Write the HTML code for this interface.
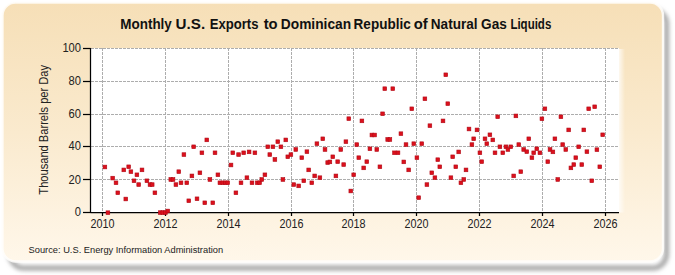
<!DOCTYPE html>
<html><head><meta charset="utf-8"><style>
html,body{margin:0;padding:0;background:#fff;}
body{width:675px;height:275px;overflow:hidden;position:relative;}
svg{position:absolute;left:0;top:0;}
text{font-family:"Liberation Sans",sans-serif;}
</style></head><body>
<svg width="675" height="275" viewBox="0 0 675 275">
<defs>
<linearGradient id="bg" x1="0" y1="0" x2="0" y2="1">
<stop offset="0" stop-color="#f6dfb7"/>
<stop offset="0.5" stop-color="#faeace"/>
<stop offset="1" stop-color="#fff7ea"/>
</linearGradient>
<linearGradient id="fade" x1="0" y1="0" x2="1" y2="0"><stop offset="0" stop-color="#fff" stop-opacity="0.75"/><stop offset="1" stop-color="#fff" stop-opacity="0"/></linearGradient>
<filter id="sh" x="-5%" y="-5%" width="110%" height="110%">
<feGaussianBlur stdDeviation="2"/>
</filter>
<filter id="soft" x="-2%" y="-2%" width="104%" height="104%"><feGaussianBlur stdDeviation="0.5"/></filter>
</defs>
<rect x="10" y="10" width="656.5" height="258" rx="14" fill="none" stroke="#a4a4a4" stroke-width="5" filter="url(#sh)"/>
<rect x="2.5" y="2.5" width="660.5" height="259" rx="13" fill="url(#bg)" stroke="#fffefb" stroke-opacity="0.85" stroke-width="2.4" filter="url(#soft)"/>
<rect x="90.5" y="48" width="528.5" height="164.5" fill="#fff"/>
<rect x="619" y="49" width="6" height="163.5" fill="url(#fade)"/>
<g stroke="#adadad" stroke-width="1" stroke-dasharray="3,1" shape-rendering="crispEdges">
<line x1="102.5" y1="48" x2="102.5" y2="212.5"/>
<line x1="165.5" y1="48" x2="165.5" y2="212.5"/>
<line x1="228.5" y1="48" x2="228.5" y2="212.5"/>
<line x1="291.5" y1="48" x2="291.5" y2="212.5"/>
<line x1="353.5" y1="48" x2="353.5" y2="212.5"/>
<line x1="416.5" y1="48" x2="416.5" y2="212.5"/>
<line x1="479.5" y1="48" x2="479.5" y2="212.5"/>
<line x1="542.5" y1="48" x2="542.5" y2="212.5"/>
<line x1="605.5" y1="48" x2="605.5" y2="212.5"/>
<line x1="90.5" y1="179.5" x2="619" y2="179.5"/>
<line x1="90.5" y1="146.5" x2="619" y2="146.5"/>
<line x1="90.5" y1="114.5" x2="619" y2="114.5"/>
<line x1="90.5" y1="81.5" x2="619" y2="81.5"/>
<line x1="90.5" y1="48.5" x2="619" y2="48.5"/>
</g>
<g stroke="#000" stroke-width="1.25">
<line x1="90.5" y1="48" x2="90.5" y2="213.0"/>
<line x1="90.5" y1="212.5" x2="619" y2="212.5"/>
<line x1="83" y1="212.5" x2="90.5" y2="212.5"/>
<line x1="83" y1="179.5" x2="90.5" y2="179.5"/>
<line x1="83" y1="146.5" x2="90.5" y2="146.5"/>
<line x1="83" y1="114.5" x2="90.5" y2="114.5"/>
<line x1="83" y1="81.5" x2="90.5" y2="81.5"/>
<line x1="83" y1="48.5" x2="90.5" y2="48.5"/>
<line x1="102.5" y1="212.5" x2="102.5" y2="216"/>
<line x1="165.5" y1="212.5" x2="165.5" y2="216"/>
<line x1="228.5" y1="212.5" x2="228.5" y2="216"/>
<line x1="291.5" y1="212.5" x2="291.5" y2="216"/>
<line x1="353.5" y1="212.5" x2="353.5" y2="216"/>
<line x1="416.5" y1="212.5" x2="416.5" y2="216"/>
<line x1="479.5" y1="212.5" x2="479.5" y2="216"/>
<line x1="542.5" y1="212.5" x2="542.5" y2="216"/>
<line x1="605.5" y1="212.5" x2="605.5" y2="216"/>
</g>
<g fill="#dc101c" stroke="#b00a16" stroke-width="0.6">
<rect x="103.05" y="165.15" width="3.7" height="3.7"/>
<rect x="106.05" y="210.85" width="3.7" height="3.7"/>
<rect x="110.85" y="176.25" width="3.7" height="3.7"/>
<rect x="114.15" y="180.95" width="3.7" height="3.7"/>
<rect x="115.95" y="190.95" width="3.7" height="3.7"/>
<rect x="123.95" y="197.15" width="3.7" height="3.7"/>
<rect x="121.95" y="168.05" width="3.7" height="3.7"/>
<rect x="126.85" y="164.95" width="3.7" height="3.7"/>
<rect x="129.05" y="169.85" width="3.7" height="3.7"/>
<rect x="132.15" y="178.95" width="3.7" height="3.7"/>
<rect x="135.05" y="172.95" width="3.7" height="3.7"/>
<rect x="136.85" y="182.75" width="3.7" height="3.7"/>
<rect x="140.15" y="168.05" width="3.7" height="3.7"/>
<rect x="145.05" y="178.95" width="3.7" height="3.7"/>
<rect x="148.15" y="182.75" width="3.7" height="3.7"/>
<rect x="150.35" y="182.75" width="3.7" height="3.7"/>
<rect x="153.05" y="190.95" width="3.7" height="3.7"/>
<rect x="158.35" y="210.75" width="3.7" height="3.7"/>
<rect x="160.95" y="210.75" width="3.7" height="3.7"/>
<rect x="163.55" y="210.75" width="3.7" height="3.7"/>
<rect x="165.95" y="209.15" width="3.7" height="3.7"/>
<rect x="168.95" y="177.65" width="3.7" height="3.7"/>
<rect x="171.15" y="177.65" width="3.7" height="3.7"/>
<rect x="174.05" y="182.75" width="3.7" height="3.7"/>
<rect x="176.95" y="169.85" width="3.7" height="3.7"/>
<rect x="179.15" y="180.95" width="3.7" height="3.7"/>
<rect x="182.05" y="152.75" width="3.7" height="3.7"/>
<rect x="184.95" y="180.95" width="3.7" height="3.7"/>
<rect x="186.95" y="198.95" width="3.7" height="3.7"/>
<rect x="190.05" y="174.05" width="3.7" height="3.7"/>
<rect x="191.85" y="144.95" width="3.7" height="3.7"/>
<rect x="195.15" y="196.95" width="3.7" height="3.7"/>
<rect x="198.05" y="170.95" width="3.7" height="3.7"/>
<rect x="200.05" y="150.95" width="3.7" height="3.7"/>
<rect x="202.95" y="200.95" width="3.7" height="3.7"/>
<rect x="204.95" y="138.05" width="3.7" height="3.7"/>
<rect x="208.05" y="177.65" width="3.7" height="3.7"/>
<rect x="210.95" y="200.95" width="3.7" height="3.7"/>
<rect x="213.15" y="150.95" width="3.7" height="3.7"/>
<rect x="216.05" y="172.95" width="3.7" height="3.7"/>
<rect x="218.05" y="180.95" width="3.7" height="3.7"/>
<rect x="220.95" y="180.95" width="3.7" height="3.7"/>
<rect x="223.65" y="180.95" width="3.7" height="3.7"/>
<rect x="225.85" y="180.95" width="3.7" height="3.7"/>
<rect x="229.15" y="163.15" width="3.7" height="3.7"/>
<rect x="230.95" y="150.95" width="3.7" height="3.7"/>
<rect x="234.05" y="190.95" width="3.7" height="3.7"/>
<rect x="236.75" y="152.75" width="3.7" height="3.7"/>
<rect x="239.15" y="180.95" width="3.7" height="3.7"/>
<rect x="241.85" y="150.95" width="3.7" height="3.7"/>
<rect x="245.05" y="175.85" width="3.7" height="3.7"/>
<rect x="247.25" y="150.05" width="3.7" height="3.7"/>
<rect x="250.15" y="180.95" width="3.7" height="3.7"/>
<rect x="253.05" y="150.95" width="3.7" height="3.7"/>
<rect x="255.45" y="180.95" width="3.7" height="3.7"/>
<rect x="257.75" y="180.95" width="3.7" height="3.7"/>
<rect x="259.95" y="177.65" width="3.7" height="3.7"/>
<rect x="263.05" y="172.95" width="3.7" height="3.7"/>
<rect x="265.95" y="144.95" width="3.7" height="3.7"/>
<rect x="267.95" y="152.75" width="3.7" height="3.7"/>
<rect x="271.05" y="144.95" width="3.7" height="3.7"/>
<rect x="273.05" y="157.65" width="3.7" height="3.7"/>
<rect x="275.95" y="139.85" width="3.7" height="3.7"/>
<rect x="279.05" y="144.95" width="3.7" height="3.7"/>
<rect x="281.05" y="177.65" width="3.7" height="3.7"/>
<rect x="283.95" y="138.05" width="3.7" height="3.7"/>
<rect x="285.95" y="154.95" width="3.7" height="3.7"/>
<rect x="289.05" y="152.75" width="3.7" height="3.7"/>
<rect x="291.95" y="182.75" width="3.7" height="3.7"/>
<rect x="293.95" y="147.65" width="3.7" height="3.7"/>
<rect x="296.85" y="184.05" width="3.7" height="3.7"/>
<rect x="299.95" y="155.85" width="3.7" height="3.7"/>
<rect x="301.95" y="178.95" width="3.7" height="3.7"/>
<rect x="305.05" y="149.85" width="3.7" height="3.7"/>
<rect x="306.85" y="168.05" width="3.7" height="3.7"/>
<rect x="309.95" y="180.95" width="3.7" height="3.7"/>
<rect x="312.85" y="174.05" width="3.7" height="3.7"/>
<rect x="315.05" y="141.85" width="3.7" height="3.7"/>
<rect x="318.05" y="175.85" width="3.7" height="3.7"/>
<rect x="320.95" y="136.95" width="3.7" height="3.7"/>
<rect x="323.15" y="147.65" width="3.7" height="3.7"/>
<rect x="325.85" y="160.75" width="3.7" height="3.7"/>
<rect x="328.05" y="160.05" width="3.7" height="3.7"/>
<rect x="330.95" y="154.95" width="3.7" height="3.7"/>
<rect x="334.05" y="174.05" width="3.7" height="3.7"/>
<rect x="335.85" y="159.85" width="3.7" height="3.7"/>
<rect x="338.95" y="147.65" width="3.7" height="3.7"/>
<rect x="341.85" y="162.75" width="3.7" height="3.7"/>
<rect x="344.05" y="139.85" width="3.7" height="3.7"/>
<rect x="346.95" y="116.85" width="3.7" height="3.7"/>
<rect x="348.95" y="189.15" width="3.7" height="3.7"/>
<rect x="351.85" y="172.95" width="3.7" height="3.7"/>
<rect x="354.95" y="142.75" width="3.7" height="3.7"/>
<rect x="356.95" y="155.85" width="3.7" height="3.7"/>
<rect x="360.05" y="119.05" width="3.7" height="3.7"/>
<rect x="361.85" y="166.05" width="3.7" height="3.7"/>
<rect x="364.95" y="159.85" width="3.7" height="3.7"/>
<rect x="368.05" y="146.95" width="3.7" height="3.7"/>
<rect x="370.05" y="133.15" width="3.7" height="3.7"/>
<rect x="372.75" y="133.15" width="3.7" height="3.7"/>
<rect x="374.95" y="147.65" width="3.7" height="3.7"/>
<rect x="378.05" y="164.95" width="3.7" height="3.7"/>
<rect x="380.75" y="111.95" width="3.7" height="3.7"/>
<rect x="382.95" y="86.85" width="3.7" height="3.7"/>
<rect x="385.85" y="137.65" width="3.7" height="3.7"/>
<rect x="388.05" y="137.65" width="3.7" height="3.7"/>
<rect x="390.95" y="86.85" width="3.7" height="3.7"/>
<rect x="392.65" y="150.95" width="3.7" height="3.7"/>
<rect x="396.15" y="150.95" width="3.7" height="3.7"/>
<rect x="399.05" y="131.85" width="3.7" height="3.7"/>
<rect x="401.95" y="160.05" width="3.7" height="3.7"/>
<rect x="404.15" y="142.75" width="3.7" height="3.7"/>
<rect x="406.85" y="168.05" width="3.7" height="3.7"/>
<rect x="409.95" y="106.95" width="3.7" height="3.7"/>
<rect x="411.95" y="141.85" width="3.7" height="3.7"/>
<rect x="415.05" y="155.85" width="3.7" height="3.7"/>
<rect x="416.85" y="195.85" width="3.7" height="3.7"/>
<rect x="419.95" y="141.85" width="3.7" height="3.7"/>
<rect x="423.05" y="96.95" width="3.7" height="3.7"/>
<rect x="425.05" y="182.75" width="3.7" height="3.7"/>
<rect x="428.05" y="123.85" width="3.7" height="3.7"/>
<rect x="429.95" y="170.95" width="3.7" height="3.7"/>
<rect x="433.05" y="175.85" width="3.7" height="3.7"/>
<rect x="435.95" y="157.85" width="3.7" height="3.7"/>
<rect x="437.95" y="164.95" width="3.7" height="3.7"/>
<rect x="441.15" y="119.05" width="3.7" height="3.7"/>
<rect x="443.95" y="72.95" width="3.7" height="3.7"/>
<rect x="445.95" y="101.85" width="3.7" height="3.7"/>
<rect x="449.05" y="175.85" width="3.7" height="3.7"/>
<rect x="450.85" y="154.95" width="3.7" height="3.7"/>
<rect x="453.95" y="164.95" width="3.7" height="3.7"/>
<rect x="456.85" y="150.05" width="3.7" height="3.7"/>
<rect x="459.05" y="180.95" width="3.7" height="3.7"/>
<rect x="461.95" y="177.65" width="3.7" height="3.7"/>
<rect x="464.15" y="168.05" width="3.7" height="3.7"/>
<rect x="467.15" y="127.15" width="3.7" height="3.7"/>
<rect x="475.15" y="128.05" width="3.7" height="3.7"/>
<rect x="471.85" y="136.95" width="3.7" height="3.7"/>
<rect x="470.05" y="142.75" width="3.7" height="3.7"/>
<rect x="478.05" y="150.95" width="3.7" height="3.7"/>
<rect x="479.85" y="159.85" width="3.7" height="3.7"/>
<rect x="483.15" y="136.95" width="3.7" height="3.7"/>
<rect x="484.95" y="141.85" width="3.7" height="3.7"/>
<rect x="488.05" y="132.95" width="3.7" height="3.7"/>
<rect x="490.95" y="138.05" width="3.7" height="3.7"/>
<rect x="493.15" y="150.95" width="3.7" height="3.7"/>
<rect x="495.85" y="114.95" width="3.7" height="3.7"/>
<rect x="498.05" y="144.95" width="3.7" height="3.7"/>
<rect x="500.95" y="150.95" width="3.7" height="3.7"/>
<rect x="504.05" y="144.95" width="3.7" height="3.7"/>
<rect x="506.05" y="147.65" width="3.7" height="3.7"/>
<rect x="508.95" y="144.95" width="3.7" height="3.7"/>
<rect x="511.85" y="174.05" width="3.7" height="3.7"/>
<rect x="514.05" y="114.05" width="3.7" height="3.7"/>
<rect x="516.95" y="142.75" width="3.7" height="3.7"/>
<rect x="518.95" y="169.85" width="3.7" height="3.7"/>
<rect x="521.85" y="147.65" width="3.7" height="3.7"/>
<rect x="524.95" y="149.85" width="3.7" height="3.7"/>
<rect x="526.95" y="136.95" width="3.7" height="3.7"/>
<rect x="530.05" y="155.85" width="3.7" height="3.7"/>
<rect x="531.85" y="150.95" width="3.7" height="3.7"/>
<rect x="534.95" y="146.95" width="3.7" height="3.7"/>
<rect x="538.05" y="150.95" width="3.7" height="3.7"/>
<rect x="540.05" y="116.95" width="3.7" height="3.7"/>
<rect x="543.05" y="106.95" width="3.7" height="3.7"/>
<rect x="545.95" y="159.85" width="3.7" height="3.7"/>
<rect x="548.15" y="147.65" width="3.7" height="3.7"/>
<rect x="551.05" y="150.05" width="3.7" height="3.7"/>
<rect x="553.05" y="136.95" width="3.7" height="3.7"/>
<rect x="555.95" y="177.65" width="3.7" height="3.7"/>
<rect x="559.05" y="114.95" width="3.7" height="3.7"/>
<rect x="560.85" y="142.75" width="3.7" height="3.7"/>
<rect x="563.95" y="147.65" width="3.7" height="3.7"/>
<rect x="566.85" y="128.05" width="3.7" height="3.7"/>
<rect x="569.05" y="166.05" width="3.7" height="3.7"/>
<rect x="571.95" y="162.75" width="3.7" height="3.7"/>
<rect x="573.95" y="155.85" width="3.7" height="3.7"/>
<rect x="576.85" y="144.95" width="3.7" height="3.7"/>
<rect x="579.95" y="162.75" width="3.7" height="3.7"/>
<rect x="581.95" y="128.05" width="3.7" height="3.7"/>
<rect x="585.05" y="149.85" width="3.7" height="3.7"/>
<rect x="586.85" y="106.95" width="3.7" height="3.7"/>
<rect x="589.95" y="178.95" width="3.7" height="3.7"/>
<rect x="592.85" y="104.95" width="3.7" height="3.7"/>
<rect x="595.05" y="147.85" width="3.7" height="3.7"/>
<rect x="597.95" y="164.95" width="3.7" height="3.7"/>
<rect x="600.85" y="132.95" width="3.7" height="3.7"/>
</g>
<g font-size="12.4" fill="#222">
<text transform="translate(81,216.1) scale(0.9,1)" text-anchor="end">0</text>
<text transform="translate(81,183.8) scale(0.9,1)" text-anchor="end">20</text>
<text transform="translate(81,150.1) scale(0.9,1)" text-anchor="end">40</text>
<text transform="translate(81,118.1) scale(0.9,1)" text-anchor="end">60</text>
<text transform="translate(81,85.1) scale(0.9,1)" text-anchor="end">80</text>
<text transform="translate(81,52.1) scale(0.9,1)" text-anchor="end">100</text>
<text transform="translate(102.5,228.3) scale(0.87,1)" text-anchor="middle">2010</text>
<text transform="translate(165.5,228.3) scale(0.87,1)" text-anchor="middle">2012</text>
<text transform="translate(228.5,228.3) scale(0.87,1)" text-anchor="middle">2014</text>
<text transform="translate(291.5,228.3) scale(0.87,1)" text-anchor="middle">2016</text>
<text transform="translate(353.5,228.3) scale(0.87,1)" text-anchor="middle">2018</text>
<text transform="translate(416.5,228.3) scale(0.87,1)" text-anchor="middle">2020</text>
<text transform="translate(479.5,228.3) scale(0.87,1)" text-anchor="middle">2022</text>
<text transform="translate(542.5,228.3) scale(0.87,1)" text-anchor="middle">2024</text>
<text transform="translate(605.5,228.3) scale(0.87,1)" text-anchor="middle">2026</text>
</g>
<g font-size="14.2" font-weight="bold" fill="#111"><text x="120.3" y="28.7" textLength="51.5" lengthAdjust="spacingAndGlyphs">Monthly</text><text x="175.6" y="28.7" textLength="29.5" lengthAdjust="spacingAndGlyphs">U.S.</text><text x="209.7" y="28.7" textLength="48.8" lengthAdjust="spacingAndGlyphs">Exports</text><text x="263.7" y="28.7" textLength="14.0" lengthAdjust="spacingAndGlyphs">to</text><text x="280.8" y="28.7" textLength="70.3" lengthAdjust="spacingAndGlyphs">Dominican</text><text x="353.6" y="28.7" textLength="57.1" lengthAdjust="spacingAndGlyphs">Republic</text><text x="413.7" y="28.7" textLength="14.0" lengthAdjust="spacingAndGlyphs">of</text><text x="430.8" y="28.7" textLength="46.8" lengthAdjust="spacingAndGlyphs">Natural</text><text x="481.1" y="28.7" textLength="25.8" lengthAdjust="spacingAndGlyphs">Gas</text><text x="510.4" y="28.7" textLength="40.9" lengthAdjust="spacingAndGlyphs">Liquids</text></g>
<text transform="translate(47.8,129.8) rotate(-90) scale(0.912,1)" text-anchor="middle" font-size="12.2" fill="#222">Thousand Barrels per Day</text>
<text x="28.6" y="252.8" font-size="9.6" fill="#222" textLength="194.5" lengthAdjust="spacingAndGlyphs">Source: U.S. Energy Information Administration</text>
</svg>
</body></html>
